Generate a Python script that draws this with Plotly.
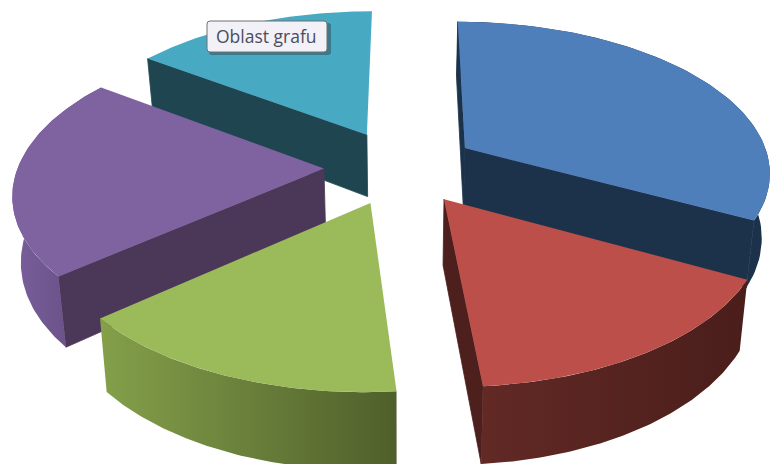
import math
import plotly.graph_objects as go

# Data
categories = ["A", "B", "C", "D", "E"]
values = [32.7, 15.9, 15.1, 21.2, 15.1]
top_colors = ["#4f7fbb", "#bd4f4b", "#9bba59", "#7f62a0", "#48a9c3"]
wall_colors = ["#1c324b", "#4d1f1d", "#4f6029", "#4b3859", "#1e4550"]
rim_left = ["#1c324b", "#622925", "#84a04a", "#7a5f9c", "#1e4550"]
rim_right = ["#1c324b", "#4a1e1b", "#4f5f2b", "#5f497b", "#1e4550"]
walls_shown = [(0, 1), (1,), (), (0,), (0,)]
rim_shown = [True, True, True, True, False]
draw_order = [4, 0, 3, 1, 2]

W, H = 771, 464
X0, Y0, R, K, P, DEPTH, EXPLODE, TAPER, START = 400.5, 167, 306, 150, 0.146, 64, 0.25, 0.022, 0.2


def project(x, y, z=0.0):
    f = 1 / (1 - P * y)
    return X0 + R * x * f * (1 - TAPER * z), Y0 + K * y * f + DEPTH * z * f


def polar(t):
    r = math.radians(t)
    return math.sin(r), -math.cos(r)


def poly(points, line=None, **kw):
    xs = [p[0] for p in points] + [points[0][0]]
    ys = [p[1] for p in points] + [points[0][1]]
    return go.Scatter(x=xs, y=ys, mode="lines", fill="toself", line=line or dict(width=0),
                      hoverinfo="skip", showlegend=False, **kw)


def rounded(x0, y0, x1, y1, r):
    return (f"M{x0+r},{y0} L{x1-r},{y0} Q{x1},{y0} {x1},{y0+r} L{x1},{y1-r} Q{x1},{y1} {x1-r},{y1} "
            f"L{x0+r},{y1} Q{x0},{y1} {x0},{y1-r} L{x0},{y0+r} Q{x0},{y0} {x0+r},{y0} Z")


fig = go.Figure()
total = sum(values)
angles = [START]
for v in values:
    angles.append(angles[-1] + 360 * v / total)

for i in draw_order:
    a0, a1 = angles[i], angles[i + 1]
    bx, by = polar((a0 + a1) / 2)
    ox, oy = EXPLODE * bx, EXPLODE * by
    n = 80
    ts = [a0 + (a1 - a0) * j / n for j in range(n + 1)]
    rim = [(ox + polar(t)[0], oy + polar(t)[1]) for t in ts]
    # radial walls
    for w in walls_shown[i]:
        end = rim[0] if w == 0 else rim[-1]
        fig.add_trace(poly([project(ox, oy), project(*end), project(*end, 1), project(ox, oy, 1)],
                           line=dict(width=0.8, color=wall_colors[i]), fillcolor=wall_colors[i]))
    # outer wall
    top = [project(*p) for p in rim]
    bot = [project(*p, 1) for p in rim]
    if rim_shown[i]:
        fig.add_trace(poly(top + bot[::-1], fillcolor=rim_right[i],
                           fillgradient=dict(type="horizontal",
                                             colorscale=[[0, rim_left[i]], [1, rim_right[i]]])))
    # top face
    fig.add_trace(poly([project(ox, oy)] + top, fillcolor=top_colors[i]))

fig.update_layout(
    width=W, height=H, margin=dict(l=0, r=0, t=0, b=0),
    paper_bgcolor="white", plot_bgcolor="white", showlegend=False,
    xaxis=dict(range=[0, W], visible=False, fixedrange=True),
    yaxis=dict(range=[H, 0], visible=False, fixedrange=True),
    shapes=[
        dict(type="path", path=rounded(209, 23, 331, 55, 3), fillcolor="rgba(40,50,60,0.4)", line_width=0),
        dict(type="path", path=rounded(207, 21, 327, 52, 3), fillcolor="#f1f1f7",
             line=dict(color="#707070", width=1)),
    ],
    annotations=[dict(x=266.5, y=36, xref="x", yref="y", text="Oblast grafu", showarrow=False,
                      font=dict(family="Open Sans", size=17.5, color="#4c4c5c"))],
)
fig.write_html("out.html", config=dict(displayModeBar=False),
               post_script="document.body.style.margin='0';document.body.style.overflow='hidden';")
